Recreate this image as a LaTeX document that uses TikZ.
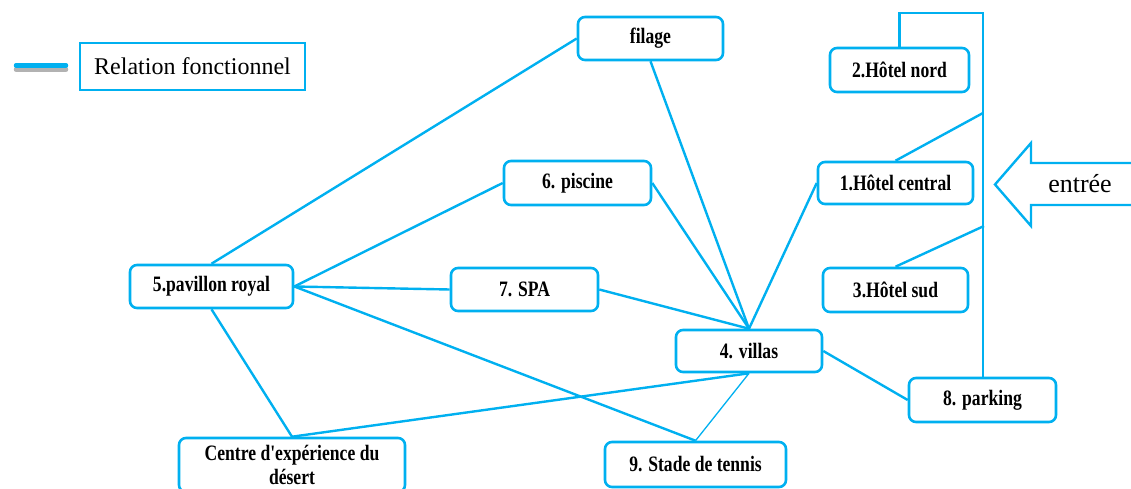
\documentclass[tikz,border=0pt]{standalone}
\usepackage{fontspec}
\setmainfont{Liberation Serif}
\newfontfamily\nodefont{Liberation Serif}[FakeStretch=0.8]
\definecolor{lc}{RGB}{0,176,240}
\begin{document}
\begin{tikzpicture}[x=1pt,y=-1pt,
  box/.style={draw=lc, line width=2.6pt, rounded corners=7pt, fill=white, inner sep=0pt, align=center,
    font=\nodefont\bfseries\fontsize{22}{24}\selectfont},
  link/.style={draw=lc, line width=2.4pt},
  thinlink/.style={draw=lc, line width=1.3pt}]
\useasboundingbox (0,0) rectangle (1131,489);

% legend
\draw[black!30, line width=4.5pt, line cap=round] (16,69.5) -- (66,69.5);
\draw[lc, line width=4.5pt, line cap=round] (16,65.5) -- (66,65.5);
\node[draw=lc, line width=1.6pt, minimum width=225pt, minimum height=47pt, inner sep=0pt,
  font=\fontsize{24}{28}\selectfont] (legend) at (192.5,66.5) {Relation fonctionnel};

% nodes
\node[box, minimum width=145pt, minimum height=43pt] (filage) at (650.5,38.5) {filage};
\node[box, minimum width=139pt, minimum height=44pt] (nord) at (899.5,70) {2.Hôtel nord};
\node[box, minimum width=155pt, minimum height=42pt] (central) at (895.5,183) {1.Hôtel central};
\node[box, minimum width=145pt, minimum height=44pt] (sud) at (895.5,290) {3.Hôtel sud};
\node[box, minimum width=147pt, minimum height=44pt] (piscine) at (577.5,183) {6. piscine};
\node[box, minimum width=163pt, minimum height=43pt] (pavillon) at (211.5,286.5) {5.pavillon royal};
\node[box, minimum width=147pt, minimum height=43pt] (spa) at (524.5,289.5) {7. SPA};
\node[box, minimum width=146pt, minimum height=42pt] (villas) at (749,351) {4. villas};
\node[box, minimum width=147pt, minimum height=44pt] (parking) at (982.5,400) {8. parking};
\node[box, minimum width=226pt, minimum height=54pt] (centre) at (292,465) {Centre d'expérience du\\désert};
\node[box, minimum width=181pt, minimum height=45pt] (stade) at (695.5,464.5) {9. Stade de tennis};

% connectors
\draw[link] (filage.west) -- (pavillon.north);
\draw[link] (filage.south) -- (villas.north);
\draw[link] (piscine.west) -- (pavillon.east);
\draw[link] (piscine.east) -- (villas.north);
\draw[link] (spa.west) -- (pavillon.east);
\draw[link] (spa.east) -- (villas.north);
\draw[link] (central.west) -- (villas.north);
\draw[link] (pavillon.east) -- (stade.north);
\draw[link] (pavillon.south) -- (centre.north);
\draw[link] (centre.north) -- (villas.south);
\draw[thinlink] (villas.south) -- (stade.north);
\draw[link] (villas.east) -- (parking.west);

% right-hand access road
\coordinate (topR) at (983,13);
\coordinate (jc) at (983,113);
\coordinate (js) at (984,226);
\draw[link] (nord.north) -- (nord.north |- topR) -- (topR) -- (parking.north -| topR);
\draw[link] (central.north) -- (jc);
\draw[link] (sud.north) -- (js);

% entrance arrow
\draw[lc, line width=2.4pt, line join=miter] (1140,163) -- (1031,163) -- (1031,143) -- (995,184.5) -- (1031,226) -- (1031,205) -- (1140,205);
\node[font=\fontsize{26}{30}\selectfont, inner sep=0pt] (entree) at (1080,184) {entrée};
\end{tikzpicture}
\end{document}
